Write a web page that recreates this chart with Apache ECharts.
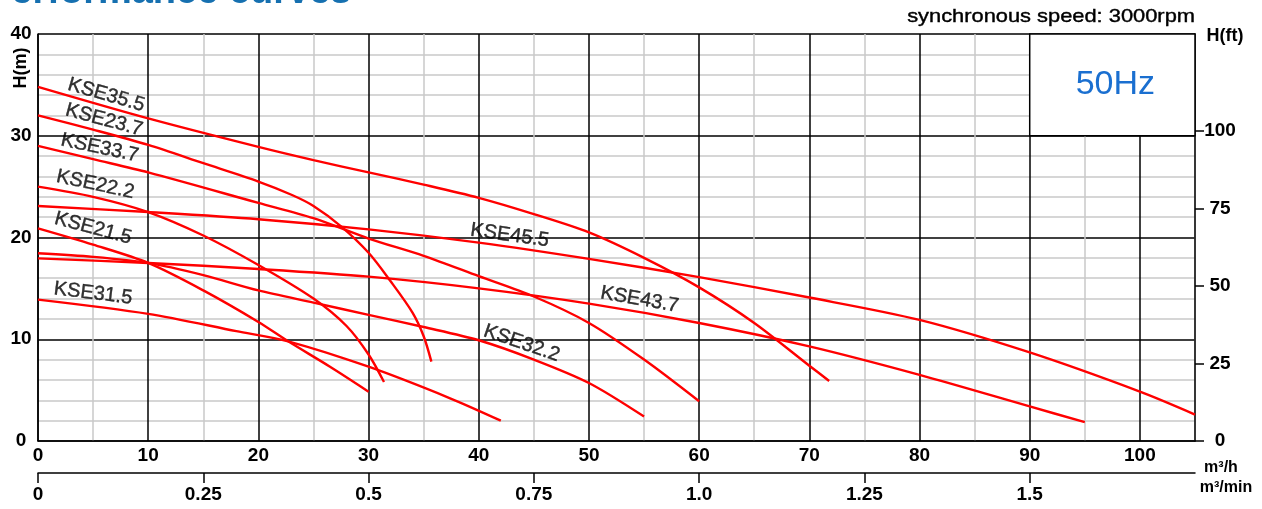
<!DOCTYPE html>
<html>
<head>
<meta charset="utf-8">
<script src="https://cdn.jsdelivr.net/npm/echarts@6.0.0/dist/echarts.min.js"></script>
<style>
html,body{margin:0;padding:0;background:#fff;}
#chart{width:1262px;height:509px;}
</style>
</head>
<body>
<div id="chart"></div>
<script>
// ---- data (flow Q in m3/h, head H in m) ----
const curveNames = ['KSE35.5','KSE23.7','KSE33.7','KSE22.2','KSE45.5','KSE21.5','KSE32.2','KSE43.7','KSE31.5'];

const KSE35_5 = [[0,34.8],[10,31.7],[20,28.9],[25,27.6],[30,26.4],[35,25.2],[40,23.9],[45,22.3],[50,20.5],[55,18.0],[60,15.1],[65,11.6],[70,7.4],[71.8,5.9]];
const KSE23_7 = [[0,32.0],[5,30.6],[10,29.1],[15,27.3],[20,25.5],[23,24.2],[25,23.1],[27.5,21.1],[30,18.5],[32,15.7],[34,12.6],[35,10.3],[35.7,7.8]];
const KSE33_7 = [[0,29.0],[5,27.7],[10,26.4],[20,23.4],[25,21.9],[30,19.9],[35,18.2],[40,16.2],[45,14.2],[50,11.6],[55,8.0],[60,3.9]];
const KSE22_2 = [[0,25.0],[5,24.0],[10,22.5],[15,20.2],[20,17.3],[25,14.0],[28,11.3],[30,8.5],[31.4,5.8]];
const KSE45_5 = [[0,23.1],[10,22.5],[20,21.8],[30,20.8],[40,19.5],[50,17.9],[60,16.1],[70,14.1],[80,11.9],[90,8.7],[100,4.85],[105,2.6]];
const KSE21_5 = [[0,20.9],[5,19.3],[10,17.5],[15,14.8],[20,11.7],[22.7,9.8],[26.5,7.3],[30,4.85]];
const KSE32_2 = [[0,18.45],[5,18.1],[10,17.5],[15,16.3],[20,14.8],[25,13.6],[30,12.4],[35,11.2],[40,9.9],[45,8.0],[50,5.7],[55,2.4]];
const KSE43_7 = [[0,17.95],[10,17.5],[20,16.9],[30,16.15],[40,15.0],[50,13.5],[60,11.6],[70,9.3],[80,6.5],[90,3.4],[95,1.85]];
const KSE31_5 = [[0,13.9],[10,12.5],[18,10.8],[22.7,9.8],[30,7.3],[37.4,4.2],[42,2.0]];

const curves = [KSE35_5, KSE23_7, KSE33_7, KSE22_2, KSE45_5, KSE21_5, KSE32_2, KSE43_7, KSE31_5];

// curve label anchors (data coordinates) and tilt
const labelQ = [6.2, 6.0, 5.6, 5.2, 42.8, 5.0, 43.9, 54.6, 5.0];
const labelH = [34.0, 31.55, 28.8, 25.2, 20.2, 20.9, 9.6, 13.9, 14.5];
const labelTilt = [-16, -15, -12, -12, -8, -15, -19, -10, -7];

// axis ticks
const flowLabelsM3h = [0,10,20,30,40,50,60,70,80,90,100];
const flowLabelsM3min = [0,0.25,0.5,0.75,1.0,1.25,1.5];
const headLabelsM = [0,10,20,30,40];
const headLabelsFt = [0,25,50,75,100];

const FT_PER_M = 3.28084;
const FONT = '"Liberation Sans", Arial, sans-serif';

const chart = echarts.init(document.getElementById('chart'));

const series = curves.map((d, i) => ({
  name: curveNames[i],
  type: 'line',
  data: d,
  xAxisIndex: 0,
  yAxisIndex: 0,
  smooth: 0.3,
  showSymbol: false,
  symbol: 'none',
  lineStyle: { color: '#ff0000', width: 2.4 },
  z: 5,
  silent: true
}));

// 50Hz box (white area, no grid)
series[0].markArea = {
  silent: true,
  itemStyle: { color: '#ffffff', borderColor: '#000000', borderWidth: 1.5 },
  label: {
    show: true, position: 'inside', formatter: '50Hz', offset: [3, 0],
    color: '#1a6fd0', fontSize: 34, fontFamily: FONT
  },
  data: [[{ coord: [90, 30] }, { coord: [105, 40] }]]
};

// curve labels
series.push({
  type: 'scatter',
  xAxisIndex: 0,
  yAxisIndex: 0,
  symbolSize: 0,
  silent: true,
  z: 6,
  data: curveNames.map((n, i) => ({
    value: [labelQ[i], labelH[i]],
    name: n,
    label: { rotate: labelTilt[i] }
  })),
  label: {
    show: true,
    position: 'inside',
    formatter: p => p.name,
    color: '#000',
    fontSize: 20,
    fontFamily: FONT,
    textBorderColor: '#000',
    textBorderWidth: 0.4
  }
});

const option = {
  backgroundColor: '#ffffff',
  animation: false,
  grid: { left: 38, right: 67, top: 34, bottom: 68, containLabel: false },
  xAxis: [
    {
      type: 'value', min: 0, max: 105, interval: 5, position: 'bottom',
      axisLine: { show: true, onZero: false, lineStyle: { color: '#000', width: 1.5 } },
      axisTick: { show: false },
      axisLabel: {
        customValues: flowLabelsM3h,
        color: '#000', fontSize: 19, fontWeight: 'bold', fontFamily: FONT, margin: 5
      },
      splitLine: { show: true, lineStyle: { color: ['#000000', '#c8c8c8'], width: 1.5 } }
    },
    {
      type: 'value', min: 0, max: 105 / 60, interval: 0.25, position: 'bottom', offset: 32,
      axisLine: { show: true, onZero: false, lineStyle: { color: '#000', width: 1.5 } },
      axisTick: { show: true, length: 10, inside: false, customValues: flowLabelsM3min, lineStyle: { color: '#000', width: 1.5 } },
      axisLabel: {
        customValues: flowLabelsM3min,
        formatter: v => (v === 1 ? '1.0' : String(v)),
        color: '#000', fontSize: 19, fontWeight: 'bold', fontFamily: FONT, margin: 12
      },
      splitLine: { show: false }
    }
  ],
  yAxis: [
    {
      type: 'value', min: 0, max: 40, interval: 2, position: 'left',
      axisLine: { show: true, onZero: false, lineStyle: { color: '#000', width: 1.5 } },
      axisTick: { show: false },
      axisLabel: {
        customValues: headLabelsM,
        align: 'center', margin: 17,
        color: '#000', fontSize: 19, fontWeight: 'bold', fontFamily: FONT
      },
      splitLine: { show: true, lineStyle: { color: ['#000000', '#c8c8c8', '#c8c8c8', '#c8c8c8', '#c8c8c8'], width: 1.5 } }
    },
    {
      type: 'value', min: 0, max: 40 * FT_PER_M, interval: 25, position: 'right',
      axisLine: { show: true, onZero: false, lineStyle: { color: '#000', width: 1.5 } },
      axisTick: { show: true, length: 9, inside: false, customValues: headLabelsFt, lineStyle: { color: '#000', width: 1.5 } },
      axisLabel: {
        customValues: headLabelsFt,
        align: 'center', margin: 25,
        color: '#000', fontSize: 19, fontWeight: 'bold', fontFamily: FONT
      },
      splitLine: { show: false }
    }
  ],
  graphic: [
    { type: 'text', x: -14, y: 12, silent: true,
      style: { text: 'Performance curves', font: 'bold 38px ' + FONT, fill: '#1670b0', textVerticalAlign: 'bottom' } },
    { type: 'text', x: 1195, y: 17, scaleX: 1.15, originX: 0, originY: 0, silent: true,
      style: { text: 'synchronous speed: 3000rpm', font: '19px ' + FONT, fill: '#000', stroke: '#000', lineWidth: 0.4, textAlign: 'right', textVerticalAlign: 'middle' } },
    { type: 'text', x: 1225, y: 36, silent: true,
      style: { text: 'H(ft)', font: 'bold 18px ' + FONT, fill: '#000', textAlign: 'center', textVerticalAlign: 'middle' } },
    { type: 'text', x: 21, y: 68, rotation: Math.PI / 2, silent: true,
      style: { text: 'H(m)', font: 'bold 18px ' + FONT, fill: '#000', textAlign: 'center', textVerticalAlign: 'middle' } },
    { type: 'text', x: 1221, y: 468, silent: true,
      style: { text: 'm³/h', font: 'bold 16px ' + FONT, fill: '#000', textAlign: 'center', textVerticalAlign: 'middle' } },
    { type: 'text', x: 1226, y: 488, silent: true,
      style: { text: 'm³/min', font: 'bold 16px ' + FONT, fill: '#000', textAlign: 'center', textVerticalAlign: 'middle' } }
  ],
  series: series
};

chart.setOption(option);
</script>
</body>
</html>
